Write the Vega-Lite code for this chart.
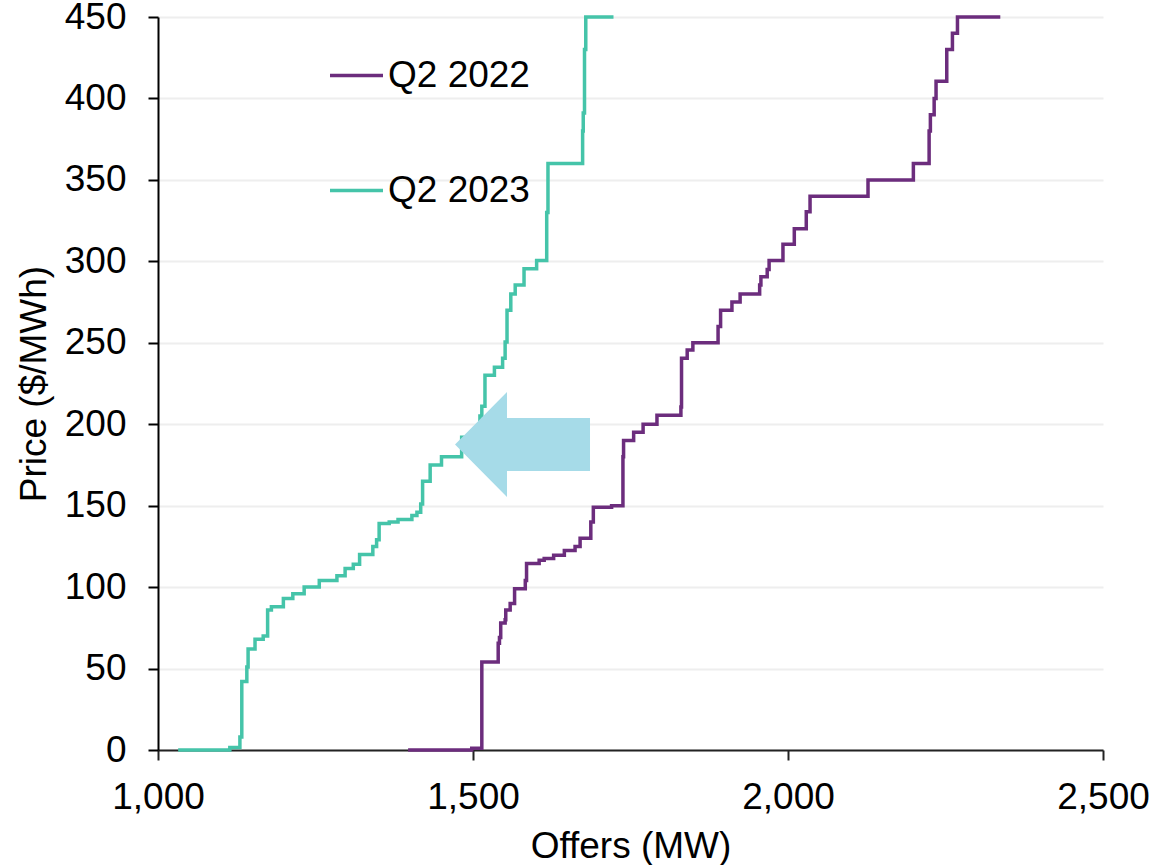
{
  "$schema": "https://vega.github.io/schema/vega-lite/v6.json",
  "width": 945,
  "height": 733,
  "autosize": {"type": "none"},
  "padding": {"left": 158, "top": 17, "right": 60, "bottom": 115},
  "background": "white",
  "config": {"view": {"stroke": null}, "font": "Liberation Sans"},
  "datasets": {
    "curves": [
      {"series": "Q2 2023", "mw": 1032, "price": 0},
      {"series": "Q2 2023", "mw": 1114, "price": 1.5},
      {"series": "Q2 2023", "mw": 1130, "price": 8},
      {"series": "Q2 2023", "mw": 1133, "price": 42},
      {"series": "Q2 2023", "mw": 1141, "price": 51},
      {"series": "Q2 2023", "mw": 1143, "price": 62},
      {"series": "Q2 2023", "mw": 1154, "price": 68},
      {"series": "Q2 2023", "mw": 1167, "price": 70},
      {"series": "Q2 2023", "mw": 1174, "price": 86},
      {"series": "Q2 2023", "mw": 1180, "price": 88},
      {"series": "Q2 2023", "mw": 1199, "price": 93},
      {"series": "Q2 2023", "mw": 1214, "price": 96},
      {"series": "Q2 2023", "mw": 1232, "price": 100},
      {"series": "Q2 2023", "mw": 1256, "price": 104},
      {"series": "Q2 2023", "mw": 1284, "price": 107},
      {"series": "Q2 2023", "mw": 1297, "price": 111.5},
      {"series": "Q2 2023", "mw": 1310, "price": 114},
      {"series": "Q2 2023", "mw": 1320, "price": 120},
      {"series": "Q2 2023", "mw": 1341, "price": 125},
      {"series": "Q2 2023", "mw": 1347, "price": 129},
      {"series": "Q2 2023", "mw": 1351, "price": 139},
      {"series": "Q2 2023", "mw": 1367, "price": 140},
      {"series": "Q2 2023", "mw": 1381, "price": 141.5},
      {"series": "Q2 2023", "mw": 1403, "price": 144},
      {"series": "Q2 2023", "mw": 1411, "price": 146},
      {"series": "Q2 2023", "mw": 1417, "price": 151},
      {"series": "Q2 2023", "mw": 1420, "price": 165},
      {"series": "Q2 2023", "mw": 1432, "price": 175},
      {"series": "Q2 2023", "mw": 1450, "price": 180},
      {"series": "Q2 2023", "mw": 1482, "price": 192},
      {"series": "Q2 2023", "mw": 1511, "price": 205},
      {"series": "Q2 2023", "mw": 1514, "price": 211},
      {"series": "Q2 2023", "mw": 1519, "price": 230},
      {"series": "Q2 2023", "mw": 1534, "price": 235},
      {"series": "Q2 2023", "mw": 1547, "price": 240.5},
      {"series": "Q2 2023", "mw": 1551, "price": 250.5},
      {"series": "Q2 2023", "mw": 1554, "price": 270},
      {"series": "Q2 2023", "mw": 1560, "price": 280},
      {"series": "Q2 2023", "mw": 1567, "price": 285.5},
      {"series": "Q2 2023", "mw": 1581, "price": 295.5},
      {"series": "Q2 2023", "mw": 1601, "price": 300.5},
      {"series": "Q2 2023", "mw": 1617, "price": 330},
      {"series": "Q2 2023", "mw": 1619, "price": 360},
      {"series": "Q2 2023", "mw": 1674, "price": 380},
      {"series": "Q2 2023", "mw": 1675, "price": 391},
      {"series": "Q2 2023", "mw": 1677, "price": 430},
      {"series": "Q2 2023", "mw": 1679, "price": 450},
      {"series": "Q2 2023", "mw": 1723, "price": 450},
      {"series": "Q2 2022", "mw": 1397, "price": 0},
      {"series": "Q2 2022", "mw": 1498, "price": 1},
      {"series": "Q2 2022", "mw": 1514, "price": 54},
      {"series": "Q2 2022", "mw": 1540, "price": 65.5},
      {"series": "Q2 2022", "mw": 1542, "price": 69},
      {"series": "Q2 2022", "mw": 1544, "price": 78},
      {"series": "Q2 2022", "mw": 1551, "price": 80},
      {"series": "Q2 2022", "mw": 1552, "price": 86},
      {"series": "Q2 2022", "mw": 1559, "price": 90},
      {"series": "Q2 2022", "mw": 1566, "price": 99},
      {"series": "Q2 2022", "mw": 1583, "price": 104},
      {"series": "Q2 2022", "mw": 1585, "price": 114.5},
      {"series": "Q2 2022", "mw": 1605, "price": 116.5},
      {"series": "Q2 2022", "mw": 1613, "price": 117.5},
      {"series": "Q2 2022", "mw": 1628, "price": 119.5},
      {"series": "Q2 2022", "mw": 1645, "price": 122.5},
      {"series": "Q2 2022", "mw": 1662, "price": 125},
      {"series": "Q2 2022", "mw": 1670, "price": 130},
      {"series": "Q2 2022", "mw": 1687, "price": 140},
      {"series": "Q2 2022", "mw": 1691, "price": 149},
      {"series": "Q2 2022", "mw": 1720, "price": 150},
      {"series": "Q2 2022", "mw": 1738, "price": 180},
      {"series": "Q2 2022", "mw": 1739, "price": 190},
      {"series": "Q2 2022", "mw": 1755, "price": 195},
      {"series": "Q2 2022", "mw": 1770, "price": 200},
      {"series": "Q2 2022", "mw": 1792, "price": 205.5},
      {"series": "Q2 2022", "mw": 1830, "price": 210.5},
      {"series": "Q2 2022", "mw": 1831, "price": 240.5},
      {"series": "Q2 2022", "mw": 1840, "price": 245.5},
      {"series": "Q2 2022", "mw": 1849, "price": 250},
      {"series": "Q2 2022", "mw": 1889, "price": 260},
      {"series": "Q2 2022", "mw": 1893, "price": 270},
      {"series": "Q2 2022", "mw": 1911, "price": 275},
      {"series": "Q2 2022", "mw": 1924, "price": 280},
      {"series": "Q2 2022", "mw": 1955, "price": 285.5},
      {"series": "Q2 2022", "mw": 1957, "price": 290.5},
      {"series": "Q2 2022", "mw": 1967, "price": 295},
      {"series": "Q2 2022", "mw": 1970, "price": 300.5},
      {"series": "Q2 2022", "mw": 1992, "price": 310.5},
      {"series": "Q2 2022", "mw": 2010, "price": 320},
      {"series": "Q2 2022", "mw": 2029, "price": 330.5},
      {"series": "Q2 2022", "mw": 2035, "price": 340},
      {"series": "Q2 2022", "mw": 2127, "price": 350},
      {"series": "Q2 2022", "mw": 2199, "price": 360},
      {"series": "Q2 2022", "mw": 2224, "price": 380},
      {"series": "Q2 2022", "mw": 2226, "price": 390},
      {"series": "Q2 2022", "mw": 2232, "price": 400},
      {"series": "Q2 2022", "mw": 2235, "price": 410.5},
      {"series": "Q2 2022", "mw": 2252, "price": 430},
      {"series": "Q2 2022", "mw": 2261, "price": 440},
      {"series": "Q2 2022", "mw": 2269, "price": 450},
      {"series": "Q2 2022", "mw": 2337, "price": 450}
    ],
    "arrow": [
      {"mw": 1578.6, "price": 187.5}
    ]
  },
  "layer": [
    {
      "data": {"name": "curves"},
      "mark": {"type": "line", "interpolate": "step-after", "strokeWidth": 3.5},
      "encoding": {
        "x": {
          "field": "mw",
          "type": "quantitative",
          "scale": {"domain": [1000, 2500], "nice": false},
          "axis": {
            "title": "Offers (MW)",
            "values": [1000, 1500, 2000, 2500],
            "format": ",.0f",
            "grid": false,
            "labelFlush": false,
            "labelFontSize": 37,
            "labelColor": "black",
            "labelPadding": 19,
            "tickSize": 10,
            "tickWidth": 2,
            "tickColor": "#222222",
            "domainColor": "#222222",
            "domainWidth": 2,
            "titleFontSize": 37,
            "titleFontWeight": "normal",
            "titleColor": "black",
            "titlePadding": 13
          }
        },
        "y": {
          "field": "price",
          "type": "quantitative",
          "scale": {"domain": [0, 450], "nice": false},
          "axis": {
            "title": "Price ($/MWh)",
            "values": [0, 50, 100, 150, 200, 250, 300, 350, 400, 450],
            "grid": true,
            "labelFlush": false,
            "gridColor": "#EEEEEE",
            "gridWidth": 2,
            "labelFontSize": 37,
            "labelColor": "black",
            "labelPadding": 22,
            "tickSize": 10,
            "tickWidth": 2,
            "tickColor": "black",
            "domainColor": "black",
            "domainWidth": 2,
            "titleFontSize": 37,
            "titleFontWeight": "normal",
            "titleColor": "black",
            "titlePadding": 11
          }
        },
        "color": {
          "field": "series",
          "type": "nominal",
          "scale": {"domain": ["Q2 2022", "Q2 2023"], "range": ["#6C2D7D", "#45C4A9"]},
          "legend": {
            "title": null,
            "orient": "none",
            "legendX": 170,
            "legendY": 30,
            "padding": 0,
            "symbolType": "stroke",
            "symbolSize": 2809,
            "symbolStrokeWidth": 3.5,
            "labelFontSize": 37,
            "labelColor": "black",
            "labelOffset": 3,
            "rowPadding": 68,
            "labelLimit": 400
          }
        }
      }
    },
    {
      "data": {"name": "arrow"},
      "mark": {
        "type": "point",
        "shape": "M -1 0 L -0.23 -0.778 L -0.23 -0.393 L 1 -0.393 L 1 0.393 L -0.23 0.393 L -0.23 0.778 Z",
        "size": 18225,
        "filled": true,
        "color": "#A6DBE8",
        "opacity": 1,
        "strokeWidth": 0
      },
      "encoding": {
        "x": {"field": "mw", "type": "quantitative"},
        "y": {"field": "price", "type": "quantitative"}
      }
    }
  ]
}
